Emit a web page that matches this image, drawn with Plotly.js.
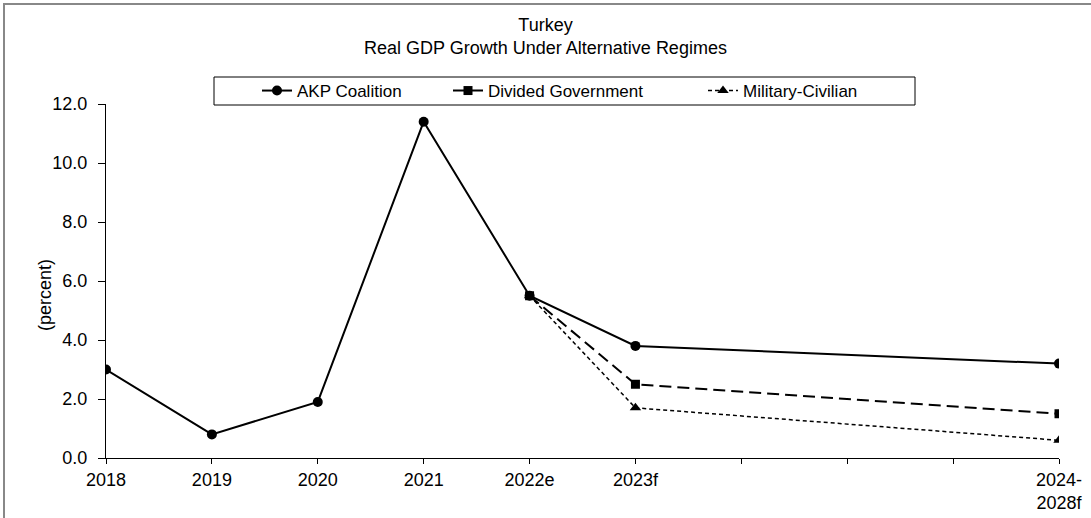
<!DOCTYPE html>
<html>
<head>
<meta charset="utf-8">
<script src="https://cdn.plot.ly/plotly-3.0.1.min.js"></script>
<style>
html,body{margin:0;padding:0;background:#fff;}
#frame{position:absolute;left:3px;top:3px;width:1100px;height:530px;border-top:2px solid #888;border-left:2px solid #888;pointer-events:none;}
#chart{width:1091px;height:518px;}
</style>
</head>
<body>
<div id="chart"></div>
<div id="frame"></div>
<script>
const tickLabels = ["2018","2019","2020","2021","2022e","2023f","","","","2024-<br>2028f"];
const akpX = ["2018","2019","2020","2021","2022e","2023f","2024-<br>2028f"];
const akpY = [3.0, 0.8, 1.9, 11.4, 5.5, 3.8, 3.2];
const divX = ["2022e","2023f","2024-<br>2028f"];
const divY = [5.5, 2.5, 1.5];
const milX = ["2022e","2023f","2024-<br>2028f"];
const milY = [5.5, 1.7, 0.6];

const pos = lbl => tickLabels.indexOf(lbl);
const font = "Liberation Sans, Arial, sans-serif";

// plot area geometry (px) used to place legend pieces
const L = 106, R = 32, T = 104, B = 60, W = 1091, H = 518;
const pw = W - L - R, ph = H - T - B;
const px = v => (v - L) / pw;
const py = v => (H - B - v) / ph;

const traces = [
  {x: akpX.map(pos), y: akpY, name: "AKP Coalition", mode: "lines+markers", legend: "legend",
   line: {color: "#000", width: 2}, marker: {symbol: "circle", size: 10, color: "#000"}},
  {x: divX.map(pos), y: divY, name: "Divided Government", mode: "lines+markers", legend: "legend2",
   line: {color: "#000", width: 2, dash: "12px,6px"}, marker: {symbol: "square", size: 9, color: "#000"}},
  {x: milX.map(pos), y: milY, name: "Military-Civilian", mode: "lines+markers", legend: "legend3",
   line: {color: "#000", width: 1.5, dash: "4px,3px"}, marker: {symbol: "triangle-up", size: 10, color: "#000"}}
];

const legBase = {orientation: "h", y: py(91), yanchor: "middle", xanchor: "left",
  borderwidth: 0, bgcolor: "rgba(0,0,0,0)", font: {family: font, size: 17, color: "#000"}};

const layout = {
  width: W, height: H,
  margin: {l: L, r: R, t: T, b: B},
  paper_bgcolor: "#fff", plot_bgcolor: "#fff",
  font: {family: font, size: 18, color: "#000"},
  title: {text: "Turkey<br>Real GDP Growth Under Alternative Regimes", x: 0.5, xanchor: "center", y: 0.94, yanchor: "top", font: {family: font, size: 18, color: "#000"}},
  showlegend: true,
  legend: Object.assign({}, legBase, {x: px(257)}),
  legend2: Object.assign({}, legBase, {x: px(448)}),
  legend3: Object.assign({}, legBase, {x: px(703)}),
  shapes: [{type: "rect", xref: "paper", yref: "paper", x0: px(214), x1: px(915), y0: py(105), y1: py(77),
    line: {color: "#000", width: 1}, fillcolor: "rgba(0,0,0,0)"}],
  annotations: [{text: "(percent)", xref: "paper", yref: "paper", x: px(45), y: py(295), textangle: -90,
    showarrow: false, xanchor: "center", yanchor: "middle", font: {family: font, size: 18, color: "#000"}}],
  xaxis: {range: [0, 9], tickvals: tickLabels.map((t, i) => i), ticktext: tickLabels,
    showgrid: false, zeroline: false, showline: true, linecolor: "#000", linewidth: 1,
    ticks: "outside", ticklen: 5, tickcolor: "#000", tickfont: {family: font, size: 18}},
  yaxis: {range: [0, 12], dtick: 2, tick0: 0, tickformat: ".1f",
    showgrid: false, zeroline: false, showline: true, linecolor: "#000", linewidth: 1,
    ticks: "outside", ticklen: 7, tickcolor: "#000", ticklabelstandoff: 7, tickfont: {family: font, size: 18}}
};

Plotly.newPlot("chart", traces, layout, {displayModeBar: false, staticPlot: true});
</script>
</body>
</html>
